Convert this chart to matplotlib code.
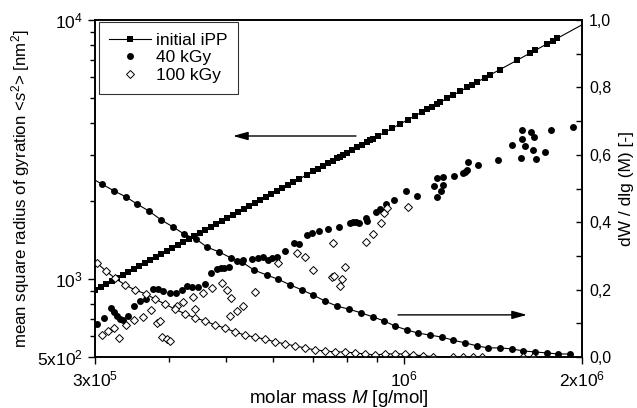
import numpy as np
import matplotlib
matplotlib.use("Agg")
import matplotlib.pyplot as plt
from matplotlib.lines import Line2D

plt.rcParams['font.family'] = ['Liberation Sans', 'DejaVu Sans']
plt.rcParams['mathtext.fontset'] = 'custom'
plt.rcParams['mathtext.rm'] = 'Liberation Sans'
plt.rcParams['mathtext.it'] = 'Liberation Sans:italic'
plt.rcParams['mathtext.bf'] = 'Liberation Sans:bold'

# ---------------- data (M in units of 1e5 g/mol) ----------------
ipp_M = [3.000, 3.071, 3.131, 3.205, 3.268, 3.346, 3.412, 3.492, 3.561, 3.645,
         3.717, 3.805, 3.879, 3.971, 4.049, 4.145, 4.226, 4.326, 4.411, 4.516,
         4.605, 4.714, 4.806, 4.920, 5.017, 5.135, 5.236, 5.360, 5.466, 5.595,
         5.705, 5.840, 5.955, 6.095, 6.215, 6.362, 6.487, 6.640, 6.851, 7.013,
         7.151, 7.291, 7.435, 7.581, 7.700, 7.791, 7.882, 8.006, 8.163, 8.324,
         8.488, 8.655, 8.756, 8.859, 9.034, 9.283, 9.540, 9.843, 10.155, 10.436,
         10.724, 10.935, 11.150, 11.369, 11.503, 11.821, 12.100, 12.435, 12.778, 13.030,
         13.286, 13.707, 13.977, 14.532, 15.521, 16.333, 16.654, 17.451, 17.864, 18.144]
ipp_s2 = [905, 932, 955, 983, 1007, 1036, 1062, 1093, 1120, 1153,
          1181, 1216, 1246, 1283, 1314, 1353, 1386, 1427, 1462, 1505,
          1542, 1587, 1626, 1674, 1715, 1766, 1809, 1862, 1908, 1964,
          2013, 2072, 2123, 2185, 2239, 2305, 2362, 2431, 2527, 2602,
          2666, 2731, 2798, 2867, 2923, 2965, 3009, 3068, 3143, 3220,
          3299, 3379, 3429, 3479, 3564, 3687, 3814, 3965, 4122, 4264,
          4411, 4519, 4630, 4743, 4813, 4979, 5125, 5305, 5488, 5622,
          5760, 5987, 6134, 6439, 6992, 7446, 7629, 8085, 8324, 8487]
ipp_fit_M = [3.0, 20.0]
ipp_fit_s2 = [905, 9580]

k40_M = [3.023, 3.107, 3.193, 3.230, 3.268, 3.307, 3.346, 3.412, 3.492, 3.575,
         3.659, 3.760, 3.834, 3.910, 4.018, 4.113, 4.210, 4.293, 4.377, 4.481,
         4.605, 4.714, 4.825, 4.901, 4.958, 5.056, 5.216, 5.340, 5.530, 5.661,
         5.772, 5.885, 5.978, 6.095, 6.289, 6.513, 6.640, 6.851, 6.986, 7.179,
         7.435, 7.761, 8.100, 8.195, 8.292, 8.389, 8.621, 8.655, 8.963, 9.104,
         9.320, 9.616, 10.076, 10.517, 11.235, 11.369, 11.369, 11.548, 11.638, 11.638,
         12.148, 12.581, 12.680, 12.778, 12.828, 13.338, 14.419, 15.221, 15.764, 15.825,
         15.825, 16.011, 16.389, 16.518, 16.582, 16.712, 17.308, 17.725, 19.310]
k40_s2 = [671, 707, 773, 746, 720, 701, 695, 720, 787, 822,
          837, 915, 915, 899, 883, 883, 907, 940, 932, 932,
          957, 1055, 1093, 1103, 1103, 1113, 1174, 1184, 1195, 1205,
          1216, 1184, 1205, 1216, 1283, 1377, 1365, 1479, 1505, 1532,
          1560, 1588, 1645, 1660, 1660, 1645, 1720, 1675, 1815, 1864,
          1948, 2019, 2188, 2093, 2287, 2074, 2455, 2188, 2307, 2477,
          2500, 2565, 2588, 2635, 2829, 2754, 2880, 3291, 2931, 3471,
          3760, 3262, 3694, 3147, 3533, 2905, 3092, 3760, 3862]

k100_M = [3.083, 3.156, 3.230, 3.294, 3.385, 3.492, 3.617, 3.731, 3.820, 3.864,
          3.895, 3.971, 4.018, 4.129, 4.226, 4.394, 4.429, 4.569, 4.732, 4.920,
          5.017, 5.095, 5.076, 5.216, 5.340, 5.595, 6.119, 6.589, 6.798, 7.013,
          7.552, 7.611, 7.852, 7.791, 7.944, 7.581, 8.621, 8.859, 9.142, 9.250,
          9.359, 10.155]
k100_s2 = [608, 630, 647, 592, 664, 695, 714, 759, 676, 688,
           597, 587, 576, 787, 815, 853, 766, 883, 923, 965,
           907, 845, 720, 753, 787, 891, 1153, 1260, 1216, 1083,
           1019, 1027, 1000, 940, 1113, 1377, 1390, 1492, 1645, 1799,
           1880, 1898]

dw40_M = [2.93, 3.083, 3.230, 3.385, 3.533, 3.703, 3.880, 4.065, 4.243, 4.447,
          4.641, 4.863, 5.095, 5.318, 5.573, 5.862, 6.119, 6.414, 6.721, 7.015,
          7.349, 7.700, 8.069, 8.455, 8.859, 9.250, 9.653, 10.115, 10.559, 11.064,
          11.593, 12.100, 12.680, 13.286, 13.868, 14.532, 15.221, 15.895, 16.654, 17.451,
          18.216, 19.085]
dw40 = [0.535, 0.513, 0.493, 0.475, 0.454, 0.433, 0.407, 0.386, 0.365, 0.350,
        0.326, 0.312, 0.294, 0.282, 0.258, 0.243, 0.231, 0.214, 0.199, 0.184,
        0.166, 0.151, 0.142, 0.131, 0.119, 0.107, 0.092, 0.080, 0.071, 0.065,
        0.059, 0.050, 0.042, 0.033, 0.027, 0.027, 0.024, 0.018, 0.015, 0.012,
        0.009, 0.009]

dw100_M = [3.023, 3.131, 3.243, 3.372, 3.506, 3.659, 3.790, 3.940, 4.097, 4.260,
           4.429, 4.605, 4.788, 4.978, 5.176, 5.381, 5.595, 5.817, 6.048, 6.289,
           6.538, 6.798, 7.068, 7.349, 7.641, 7.944, 8.260, 8.588, 8.929, 9.284,
           9.653, 10.036, 10.355, 10.766, 11.193, 12.100, 12.581, 13.080, 13.547, 15.887,
           16.518]
dw100 = [0.279, 0.255, 0.234, 0.214, 0.199, 0.187, 0.172, 0.157, 0.142, 0.128,
         0.116, 0.107, 0.095, 0.086, 0.074, 0.065, 0.059, 0.053, 0.045, 0.039,
         0.033, 0.027, 0.021, 0.018, 0.015, 0.015, 0.012, 0.009, 0.006, 0.009,
         0.009, 0.009, 0.006, 0.004, 0.001, 0.0, 0.0, 0.0, 0.0, 0.0,
         0.0]

series_labels = ['initial iPP', '40 kGy', '100 kGy']
xtick_vals = [3e5, 1e6, 2e6]
xtick_labels = [r'$3\mathrm{x}10^5$', r'$10^6$', r'$2\mathrm{x}10^6$']
ytick_vals = [500, 1000, 10000]
ytick_labels = [r'$5\mathrm{x}10^2$', r'$10^3$', r'$10^4$']
y2tick_vals = [0.0, 0.2, 0.4, 0.6, 0.8, 1.0]
y2tick_labels = ['0,0', '0,2', '0,4', '0,6', '0,8', '1,0']

scale = 1e5
# ---------------- figure ----------------
fig = plt.figure(figsize=(6.37, 4.08), dpi=100)
ax = fig.add_axes([95/637, 1-357/408, 487/637, 337/408])
ax2 = ax.twinx()

ax.set_xscale('log')
ax.set_yscale('log')
ax.set_xlim(3e5, 2e6)
ax.set_ylim(500, 1e4)
ax2.set_ylim(0, 1.0)

ms = 4.4
ax.plot(np.array(ipp_fit_M)*scale, ipp_fit_s2, '-', color='k', lw=0.8)
ax.plot(np.array(ipp_M)*scale, ipp_s2, 's', color='k', ms=ms, mew=0)
ax.plot(np.array(k40_M)*scale, k40_s2, 'o', color='k', ms=ms+0.6, mew=0)
ax.plot(np.array(k100_M)*scale, k100_s2, 'D', mfc='white', mec='k', ms=ms-0.3, mew=0.7)

ax2.plot(np.array(dw40_M)*scale, dw40, '-o', color='k', lw=0.8, ms=ms+0.6, mew=0)
ax2.plot(np.array(dw100_M)*scale, dw100, '-D', color='k', lw=0.8, mfc='white',
         mec='k', ms=ms-0.3, mew=0.7)

# ticks
ax.xaxis.set_major_locator(matplotlib.ticker.FixedLocator(xtick_vals))
ax.xaxis.set_minor_locator(matplotlib.ticker.FixedLocator([4e5, 5e5, 6e5, 7e5, 8e5, 9e5]))
ax.xaxis.set_major_formatter(matplotlib.ticker.FixedFormatter(xtick_labels))
ax.xaxis.set_minor_formatter(matplotlib.ticker.NullFormatter())
ax.yaxis.set_major_locator(matplotlib.ticker.FixedLocator(ytick_vals))
ax.yaxis.set_minor_locator(matplotlib.ticker.FixedLocator(
    [600, 700, 800, 900, 2000, 3000, 4000, 5000, 6000, 7000, 8000, 9000]))
ax.yaxis.set_major_formatter(matplotlib.ticker.FixedFormatter(ytick_labels))
ax.yaxis.set_minor_formatter(matplotlib.ticker.NullFormatter())
ax2.set_yticks(y2tick_vals)
ax2.set_yticklabels(y2tick_labels)
ax2.set_yticks([0.1, 0.3, 0.5, 0.7, 0.9], minor=True)

ax.tick_params(axis='both', which='major', direction='out', length=5, width=1.0,
               labelsize=12.5, top=False, right=False)
ax.tick_params(axis='both', which='minor', direction='out', length=3.5, width=1.0,
               top=False, right=False)
ax.tick_params(axis='x', which='major', pad=4)
ax.tick_params(axis='y', which='major', pad=4)
ax2.tick_params(axis='y', which='both', direction='in', length=4, width=1.0,
                labelsize=11.5, pad=5)
for a in (ax, ax2):
    for s in a.spines.values():
        s.set_linewidth(1.2)

ax.set_xlabel('molar mass $M$ [g/mol]', fontsize=13.5, va='baseline')
ax.xaxis.set_label_coords(0.5, -(403 - 357) / 337)
ax.set_ylabel('mean square radius of gyration <$s^2$> [nm$^2$]', fontsize=12.2,
              va='center')
ax.yaxis.set_label_coords(-(95 - 21) / 487, 0.5)
ax2.set_ylabel('dW / dlg (M) [-]', fontsize=12.5, rotation=90, va='center')
ax2.yaxis.set_label_coords((627 - 95) / 487, 0.5)

# arrows
ax.annotate('', xy=(5.135e5, 3566), xytext=(8.292e5, 3566),
            arrowprops=dict(arrowstyle='-|>,head_length=0.9,head_width=0.25',
                            color='k', lw=1.0, mutation_scale=10,
                            shrinkA=0, shrinkB=0))
ax2.annotate('', xy=(1.6143e6, 0.125), xytext=(9.767e5, 0.125),
             arrowprops=dict(arrowstyle='-|>,head_length=0.9,head_width=0.25',
                             color='k', lw=1.0, mutation_scale=10,
                             shrinkA=0, shrinkB=0))

# legend
handles = [Line2D([], [], color='k', lw=0.8, marker='s', ms=ms, mew=0),
           Line2D([], [], color='k', ls='none', marker='o', ms=ms+0.6, mew=0),
           Line2D([], [], color='k', ls='none', marker='D', mfc='white', mec='k',
                  ms=ms-0.3, mew=0.7)]
leg = ax2.legend(handles, series_labels, loc='upper left',
                 bbox_to_anchor=(0.008, 0.994), bbox_transform=ax.transAxes,
                 borderaxespad=0, fontsize=12.5, frameon=True, fancybox=False,
                 edgecolor='k', handlelength=2.4, handletextpad=0.3,
                 labelspacing=0.15, borderpad=0.6)
leg.get_frame().set_linewidth(0.8)

fig.savefig('out.png', dpi=100)
